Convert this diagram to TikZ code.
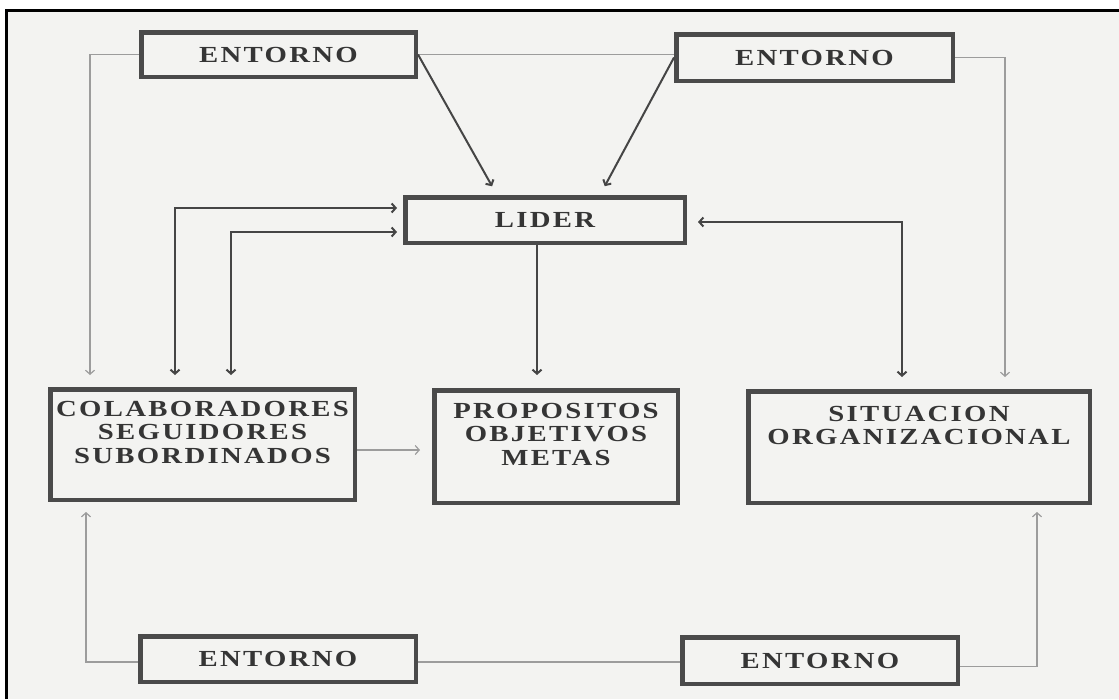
\documentclass[tikz,border=0pt]{standalone}
\usepackage{fontspec}
\usepackage{graphicx}
\newfontfamily\lblfont[LetterSpace=8]{Liberation Serif Bold}
\usetikzlibrary{arrows.meta}

\definecolor{paper}{HTML}{F3F3F1}
\definecolor{ink}{HTML}{353535}
\definecolor{boxline}{HTML}{4A4A4A}
\definecolor{faint}{HTML}{9C9C9C}
\definecolor{strong}{HTML}{454545}

% widened capitals, as in the printed labels
\newcommand{\wide}[1]{\scalebox{1.25}[1]{#1}}
% top-aligned multi-line label of a fixed-size box: width, height, top gap, lines
\newcommand{\boxlines}[4]{\parbox[c][#2][t]{#1}{\centering\vspace*{#3}#4}}

\tikzset{
  >={Straight Barb[length=4pt,width=9pt]},
  box/.style={draw=boxline, line width=4.5pt, inner sep=0pt, text=ink,
    font=\lblfont\fontsize{23}{23.5}\selectfont},
  loopline/.style={draw=faint, line width=1.2pt},
  mainline/.style={draw=strong, line width=2pt},
}

\begin{document}
\begin{tikzpicture}[x=1pt, y=-1pt]
  \useasboundingbox (0,0) rectangle (1119,699);
  % paper and frame
  \fill[white] (0,0) rectangle (1119,699);
  \fill[paper] (6,10) rectangle (1119,699);
  \draw[black, line width=3pt] (6,699) -- (6,10) -- (1119,10);

  % boxes
  \node[box, minimum width=274.5pt, minimum height=44.5pt] (e1) at (278.5,54.5) {\wide{ENTORNO}};
  \node[box, minimum width=276.5pt, minimum height=46.5pt] (e2) at (814.5,57.5) {\wide{ENTORNO}};
  \node[box, minimum width=279.5pt, minimum height=45.5pt] (lider) at (545,220) {\wide{LIDER}};
  \node[box] (colab) at (202.5,444.5)
    {\boxlines{304.5pt}{110.5pt}{12pt}{\wide{COLABORADORES}\\\wide{SEGUIDORES}\\\wide{SUBORDINADOS}}};
  \node[box] (prop) at (556,446.5)
    {\boxlines{243.5pt}{112.5pt}{13pt}{\wide{PROPOSITOS}\\\wide{OBJETIVOS}\\\wide{METAS}}};
  \node[box] (sit) at (919,447)
    {\boxlines{341.5pt}{111.5pt}{15pt}{\wide{SITUACION}\\\wide{ORGANIZACIONAL}}};
  \node[box, minimum width=275.5pt, minimum height=45.5pt] (e3) at (278,659) {\wide{ENTORNO}};
  \node[box, minimum width=275.5pt, minimum height=46.5pt] (e4) at (820,660.5) {\wide{ENTORNO}};

  % environment loop
  \draw[loopline, ->, shorten >=12pt] (e1.west) -| ([xshift=42pt]colab.north west);
  \draw[loopline] (e1.east) -- (e1.east -| e2.west);
  \draw[loopline, ->, shorten >=12pt] (e2.east) -| ([xshift=259pt]sit.north west);
  \draw[loopline, ->, shorten >=10pt] ([yshift=-3pt]e3.west) -| ([xshift=38pt]colab.south west);
  \draw[loopline] ([yshift=-3pt]e3.east) -- ([yshift=-3pt]e3.east -| e4.west);
  \draw[loopline, ->, shorten >=7pt] ([yshift=-6pt]e4.east) -| ([xshift=291pt]sit.south west);
  \draw[loopline, ->, shorten >=12pt] ([yshift=-5.5pt]colab.east) -- ([yshift=-5.5pt]colab.east -| prop.west);

  % links around the leader
  \draw[mainline, ->, shorten >=10pt] (e1.east) -- ([xshift=94pt]lider.north west);
  \draw[mainline, ->, shorten >=10pt] (e2.west) -- ([xshift=197pt]lider.north west);
  \draw[mainline, <->, shorten <=12pt, shorten >=6pt]
    ([xshift=127pt]colab.north west) |- ([yshift=12pt]lider.west);
  \draw[mainline, <->, shorten <=12pt, shorten >=6pt]
    ([xshift=183pt]colab.north west) |- ([yshift=-12pt]lider.west);
  \draw[mainline, <->, shorten <=12pt, shorten >=11pt]
    ([xshift=156pt]sit.north west) |- ([yshift=-2pt]lider.east);
  \draw[mainline, ->, shorten >=13pt]
    ([xshift=-8pt]lider.south) -- ([xshift=-8pt]lider.south |- prop.north);
\end{tikzpicture}
\end{document}
